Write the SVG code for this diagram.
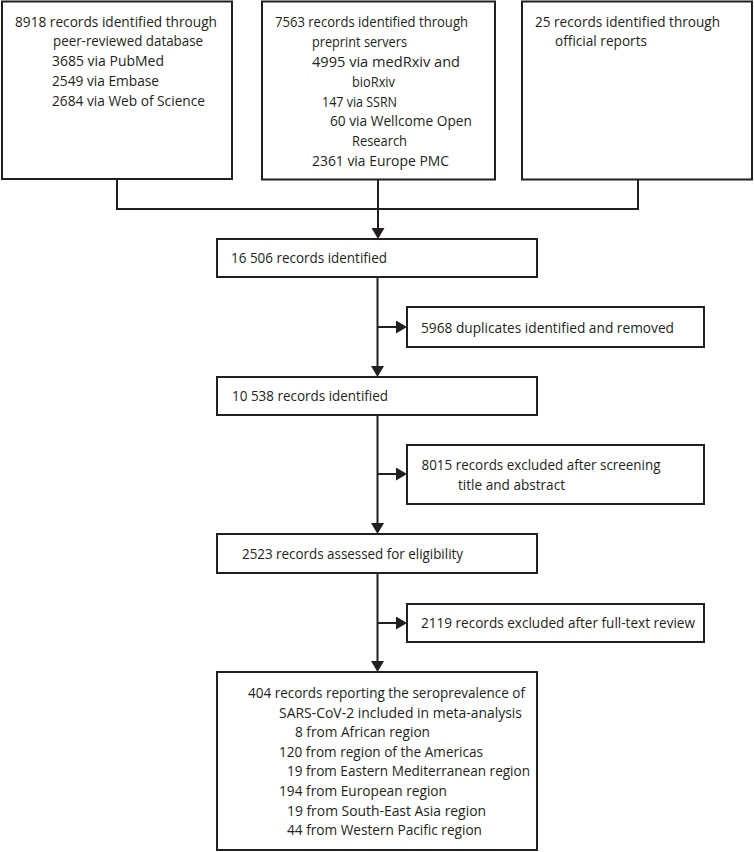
<svg xmlns="http://www.w3.org/2000/svg" width="754" height="852" viewBox="0 0 754 852">
<style>
.box{fill:#fff;stroke:#231f20;stroke-width:2}
.ln{fill:none;stroke:#231f20;stroke-width:2}
text{font-family:"Open Sans","Noto Sans","Liberation Sans",sans-serif;font-size:14.5px;fill:#231f20}
</style>
<defs>
<marker id="ah" markerUnits="userSpaceOnUse" markerWidth="12" markerHeight="14" refX="7" refY="6.5" orient="auto">
<path d="M0,0 L11,6.5 L0,13 Z" fill="#231f20"/>
</marker>
</defs>
<rect width="754" height="852" fill="#fff"/>
<g id="connectors">
<polyline class="ln" points="117,179 117,209 638,209 638,180"/>
<line class="ln" x1="378" y1="180" x2="378" y2="235" marker-end="url(#ah)"/>
<line class="ln" x1="377.5" y1="277" x2="377.5" y2="373" marker-end="url(#ah)"/>
<line class="ln" x1="377.5" y1="327" x2="403" y2="327" marker-end="url(#ah)"/>
<line class="ln" x1="377.5" y1="415" x2="377.5" y2="530" marker-end="url(#ah)"/>
<line class="ln" x1="377.5" y1="474" x2="403" y2="474" marker-end="url(#ah)"/>
<line class="ln" x1="377.5" y1="573" x2="377.5" y2="668" marker-end="url(#ah)"/>
<line class="ln" x1="377.5" y1="623" x2="403" y2="623" marker-end="url(#ah)"/>
</g>
<g id="n-database">
<rect class="box" x="2" y="1.5" width="230" height="177.5"/>
<text x="15" y="26.5" textLength="202" lengthAdjust="spacingAndGlyphs">8918 records identified through</text>
<text x="53" y="46" textLength="150" lengthAdjust="spacingAndGlyphs">peer-reviewed database</text>
<text x="52" y="66" textLength="112" lengthAdjust="spacingAndGlyphs">3685 via PubMed</text>
<text x="52" y="85.5" textLength="107" lengthAdjust="spacingAndGlyphs">2549 via Embase</text>
<text x="52" y="105.5" textLength="153" lengthAdjust="spacingAndGlyphs">2684 via Web of Science</text>
</g>
<g id="n-preprint">
<rect class="box" x="262" y="1.5" width="233" height="178"/>
<text x="275" y="26.5" textLength="193" lengthAdjust="spacingAndGlyphs">7563 records identified through</text>
<text x="312" y="46.5" textLength="95" lengthAdjust="spacingAndGlyphs">preprint servers</text>
<text x="312" y="66.5" textLength="148" lengthAdjust="spacingAndGlyphs">4995 via medRxiv and</text>
<text x="352" y="86.5" textLength="43" lengthAdjust="spacingAndGlyphs">bioRxiv</text>
<text x="322" y="106.5" textLength="75" lengthAdjust="spacingAndGlyphs">147 via SSRN</text>
<text x="330" y="126" textLength="142" lengthAdjust="spacingAndGlyphs">60 via Wellcome Open</text>
<text x="352" y="146" textLength="55" lengthAdjust="spacingAndGlyphs">Research</text>
<text x="312" y="166" textLength="137" lengthAdjust="spacingAndGlyphs">2361 via Europe PMC</text>
</g>
<g id="n-official">
<rect class="box" x="522" y="1.5" width="230" height="178"/>
<text x="535" y="26.5" textLength="185" lengthAdjust="spacingAndGlyphs">25 records identified through</text>
<text x="555" y="46" textLength="92" lengthAdjust="spacingAndGlyphs">official reports</text>
</g>
<g id="n-identified1">
<rect class="box" x="217" y="239" width="320" height="38"/>
<text x="231" y="263" textLength="156" lengthAdjust="spacingAndGlyphs">16 506 records identified</text>
</g>
<g id="n-duplicates">
<rect class="box" x="407" y="307" width="297" height="40"/>
<text x="421" y="332.5" textLength="253" lengthAdjust="spacingAndGlyphs">5968 duplicates identified and removed</text>
</g>
<g id="n-identified2">
<rect class="box" x="217" y="377" width="320" height="38"/>
<text x="232" y="401" textLength="156" lengthAdjust="spacingAndGlyphs">10 538 records identified</text>
</g>
<g id="n-excluded1">
<rect class="box" x="407" y="445" width="297" height="59"/>
<text x="421.5" y="470" textLength="239" lengthAdjust="spacingAndGlyphs">8015 records excluded after screening</text>
<text x="458" y="490" textLength="107" lengthAdjust="spacingAndGlyphs">title and abstract</text>
</g>
<g id="n-assessed">
<rect class="box" x="217" y="534" width="320" height="39"/>
<text x="242" y="559" textLength="221" lengthAdjust="spacingAndGlyphs">2523 records assessed for eligibility</text>
</g>
<g id="n-excluded2">
<rect class="box" x="407" y="604" width="297" height="38"/>
<text x="421" y="628" textLength="274" lengthAdjust="spacingAndGlyphs">2119 records excluded after full-text review</text>
</g>
<g id="n-included">
<rect class="box" x="217" y="672" width="320" height="178"/>
<text x="248" y="698" textLength="277" lengthAdjust="spacingAndGlyphs">404 records reporting the seroprevalence of</text>
<text x="279" y="717.5" textLength="243" lengthAdjust="spacingAndGlyphs">SARS-CoV-2 included in meta-analysis</text>
<text x="295" y="737" textLength="135" lengthAdjust="spacingAndGlyphs">8 from African region</text>
<text x="279" y="756.5" textLength="204" lengthAdjust="spacingAndGlyphs">120 from region of the Americas</text>
<text x="287" y="776" textLength="243" lengthAdjust="spacingAndGlyphs">19 from Eastern Mediterranean region</text>
<text x="279" y="796" textLength="168" lengthAdjust="spacingAndGlyphs">194 from European region</text>
<text x="287" y="815.5" textLength="199" lengthAdjust="spacingAndGlyphs">19 from South-East Asia region</text>
<text x="287" y="835" textLength="195" lengthAdjust="spacingAndGlyphs">44 from Western Pacific region</text>
</g>
</svg>
